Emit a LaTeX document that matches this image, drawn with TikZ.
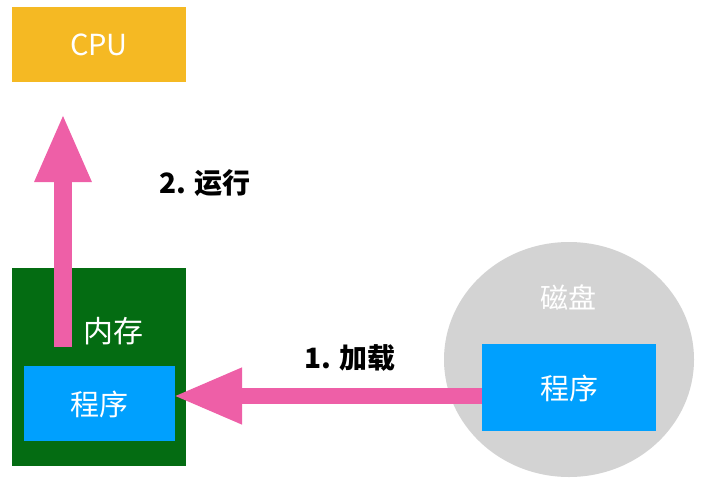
\documentclass[tikz,border=0pt]{standalone}
\usepackage{fontspec}
\setmainfont{Noto Sans CJK SC}
\usetikzlibrary{arrows.meta,shapes.geometric}
\definecolor{cpuor}{HTML}{F5B923}
\definecolor{memgr}{HTML}{046C12}
\definecolor{progbl}{HTML}{00A0FE}
\definecolor{diskgr}{HTML}{D3D3D3}
\definecolor{arrpk}{HTML}{EE5FA7}
\tikzset{
  box/.style={draw=none, inner sep=0pt, outer sep=0pt, anchor=north west},
  wtext/.style={text=white, font=\fontsize{29}{32}\selectfont},
  ktext/.style={text=black, font=\bfseries\fontsize{28}{32}\selectfont},
  bigarrow/.style={draw=arrpk, line width=#1, -{Triangle[width=52pt,length=69pt]}},
}
\begin{document}
\begin{tikzpicture}[x=1pt,y=-1pt]
\useasboundingbox (0,0) rectangle (709,482);
% CPU
\node[box, fill=cpuor, minimum width=174pt, minimum height=75pt] (cpu) at (12,7) {};
\node[wtext, font=\fontsize{29}{32}\selectfont] (cputxt) at (99,45) {CPU};
% memory
\node[box, fill=memgr, minimum width=174pt, minimum height=198pt] (mem) at (12,268) {};
\node[wtext, font=\fontsize{30}{34}\selectfont] (memtxt) at (113,331) {内存};
\node[box, fill=progbl, minimum width=151pt, minimum height=75pt] (memprog) at (24,366) {};
\node[wtext] (memprogtxt) at (99,404) {程序};
% disk
\node[ellipse, fill=diskgr, minimum width=250pt, minimum height=235pt, inner sep=0pt] (disk) at (569,359.5) {};
\node[wtext, font=\fontsize{28}{32}\selectfont] (disktxt) at (568,297) {磁盘};
\node[box, fill=progbl, minimum width=174pt, minimum height=87pt] (diskprog) at (482,344) {};
\node[wtext] (diskprogtxt) at (569,388) {程序};
% arrows
\coordinate (vstart) at (63,347);
\coordinate (vtip) at (63,113);
\draw[bigarrow=18pt] (vstart) -- (vtip);
\draw[bigarrow=16pt] (diskprog.west |- 0,396) -- ([xshift=-2pt]memprog.east |- 0,396);
% labels
\node[ktext] (lab1) at (350,358) {1. 加载};
\node[ktext] (lab2) at (205,183) {2. 运行};
\end{tikzpicture}
\end{document}
